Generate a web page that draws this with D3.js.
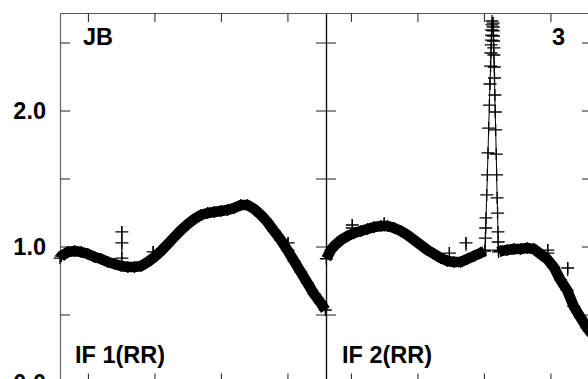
<!DOCTYPE html>
<html><head><meta charset="utf-8">
<script src="https://cdn.jsdelivr.net/npm/d3@7"></script>
<style>
body{margin:0;background:#fff}
svg{display:block}
text{font-family:"Liberation Sans",Arial,Helvetica,sans-serif;font-weight:bold;fill:#000}
</style>
</head><body>
<svg id="c" width="588" height="379"></svg>
<script>
// ---- data ----
const yTicks = [0, 0.5, 1, 1.5, 2, 2.5];
const yLabelValues = [0, 1, 2];
const panelLabels = ["IF 1(RR)", "IF 2(RR)"];
const sourceLabel = "JB";
const antennaLabel = "3";
const leftTicks = [1, 2, 3, 4];
const rightTicks = [5, 6, 7, 8];

// IF 1 amplitude vs frequency (MHz offset)
const leftFreq = [0.58,0.6,0.7,0.8,0.9,1.0,1.1,1.2,1.3,1.4,1.5,1.6,1.7,1.8,1.9,2.0,2.1,2.2,2.3,2.4,2.5,2.6,2.7,2.8,2.9,3.0,3.1,3.2,3.3,3.4,3.5,3.6,3.7,3.8,3.9,4.0,4.1,4.2,4.3,4.4,4.5,4.57];
const leftAmp  = [0.915,0.930,0.960,0.967,0.960,0.945,0.923,0.908,0.886,0.871,0.857,0.849,0.849,0.857,0.886,0.923,0.967,1.018,1.070,1.121,1.165,1.202,1.232,1.246,1.254,1.261,1.268,1.283,1.305,1.305,1.276,1.232,1.180,1.114,1.048,0.974,0.893,0.813,0.732,0.651,0.585,0.533];

// IF 2, before the spike
const rightFreqA = [4.63,4.70,4.75,4.85,4.95,5.05,5.15,5.25,5.35,5.45,5.55,5.65,5.75,5.85,5.95,6.05,6.15,6.25,6.35,6.45,6.55,6.65,6.75,6.85,6.95,7.01];
const rightAmpA  = [0.910,0.975,1.004,1.048,1.077,1.099,1.114,1.129,1.143,1.151,1.151,1.136,1.114,1.085,1.048,1.011,0.974,0.945,0.915,0.893,0.886,0.886,0.908,0.930,0.952,0.967];
// IF 2, narrow spike
const spikeFreq = [7.016,7.022,7.027,7.031,7.042,7.052,7.061,7.071,7.082,7.091,7.100,7.106,7.109,7.112,7.114,7.117,7.120,7.121,7.138,7.139,7.141,7.144,7.145,7.148,7.150,7.155,7.159,7.164,7.170,7.176,7.185,7.191,7.199,7.205,7.211,7.214,7.217];
const spikeAmp  = [0.974,1.062,1.136,1.210,1.379,1.526,1.688,1.871,2.040,2.195,2.327,2.423,2.482,2.518,2.555,2.592,2.629,2.658,2.643,2.614,2.585,2.548,2.511,2.460,2.408,2.320,2.239,2.114,1.989,1.857,1.680,1.526,1.357,1.246,1.107,1.033,0.974];
// IF 2, after the spike
const rightFreqB = [7.22,7.25,7.35,7.45,7.55,7.65,7.75,7.85,7.95,8.05,8.15,8.25,8.35,8.45,8.55,8.62];
const rightAmpB  = [0.960,0.967,0.974,0.982,0.982,0.989,0.982,0.945,0.908,0.849,0.754,0.680,0.560,0.480,0.401,0.360];

// isolated points above the band
const outlierFreq = [1.51,1.51,1.51,1.98,4.01,4.01,5.02,5.02,5.50,6.48,6.73,7.96,7.96,8.26];
const outlierAmp  = [1.107,1.026,0.915,0.960,1.026,0.974,1.158,1.136,1.170,0.952,1.026,0.974,0.952,0.842];

// ---- layout ----
const frameL = 60, frameT = 13, frameB = 382.5, panelW = 266;
const svg = d3.select("#c");
const y = d3.scaleLinear().domain([0, 2.717]).range([frameB, frameT]);
const xL = d3.scaleLinear().domain([0.58, 4.58]).range([frameL, frameL + panelW]);
const xR = d3.scaleLinear().domain([4.625, 8.625]).range([frameL + panelW, frameL + 2 * panelW]);
const xOf = f => (f < 4.6 ? xL(f) : xR(f));

// ---- frame & axes ----
const axG = svg.append("g");
function styleAxis(g, col) {
  g.selectAll("path.domain").attr("stroke", col).attr("stroke-width", 1.2);
  g.selectAll(".tick line").attr("stroke", "#333").attr("stroke-width", 1.1);
  g.selectAll(".tick text").remove();
}
axG.append("g").attr("transform", `translate(${frameL},0)`)
  .call(d3.axisRight(y).tickValues(yTicks).tickSize(10).tickSizeOuter(0).tickFormat(""))
  .call(g => styleAxis(g, "#666"));
const divX = frameL + panelW;
axG.append("g").attr("transform", `translate(${divX},0)`)
  .call(d3.axisRight(y).tickValues(yTicks).tickSize(10).tickSizeOuter(0).tickFormat(""))
  .call(g => styleAxis(g, "#111"));
axG.append("g").attr("transform", `translate(${divX},0)`)
  .call(d3.axisLeft(y).tickValues(yTicks).tickSize(10).tickSizeOuter(0).tickFormat(""))
  .call(g => styleAxis(g, "#111"));
axG.append("g").attr("transform", `translate(${frameL + 2 * panelW},0)`)
  .call(d3.axisLeft(y).tickValues(yTicks).tickSize(10).tickSizeOuter(0).tickFormat(""))
  .call(g => styleAxis(g, "#666"));
[[xL, leftTicks], [xR, rightTicks]].forEach(([sc, tv]) => {
  axG.append("g").attr("transform", `translate(0,${frameT})`)
    .call(d3.axisBottom(sc).tickValues(tv).tickSize(9).tickSizeOuter(0).tickFormat(""))
    .call(g => styleAxis(g, "#555"));
  axG.append("g").attr("transform", `translate(0,${frameB})`)
    .call(d3.axisTop(sc).tickValues(tv).tickSize(9).tickSizeOuter(0).tickFormat(""))
    .call(g => styleAxis(g, "#555"));
});

// y labels
svg.append("g").selectAll("text").data(yLabelValues).join("text")
  .attr("x", 46).attr("y", d => y(d) + 8.5)
  .attr("text-anchor", "end").attr("font-size", 23.5)
  .text(d => d3.format(".1f")(d));

// ---- data marks ----
const pts = (fs, as) => fs.map((f, i) => [xOf(f), y(as[i])]);
const line = d3.line();
const leftPts = pts(leftFreq, leftAmp);
const rA = pts(rightFreqA, rightAmpA);
const sp = pts(spikeFreq, spikeAmp);
const rB = pts(rightFreqB, rightAmpB);

const marks = svg.append("g");
[leftPts, rA, rB].forEach(p => {
  marks.append("path").attr("d", line(p)).attr("fill", "none")
    .attr("stroke", "#000").attr("stroke-width", 10.5)
    .attr("stroke-linejoin", "round").attr("stroke-linecap", "butt");
});
marks.append("path").attr("d", line(leftPts)).attr("fill", "none").attr("stroke", "#000").attr("stroke-width", 1);
marks.append("path").attr("d", line(rA.concat(sp, rB))).attr("fill", "none").attr("stroke", "#000").attr("stroke-width", 1);

const outPts = outlierFreq.map((f, i) => ({f, p: [xOf(f), y(outlierAmp[i])]}));
d3.groups(outPts, d => d.f).forEach(([f, arr]) => {
  const ys = arr.map(d => d.p[1]);
  const x0 = arr[0].p[0];
  marks.append("line").attr("x1", x0).attr("x2", x0)
    .attr("y1", d3.min(ys) - 6).attr("y2", d3.max(ys) + 8)
    .attr("stroke", "#000").attr("stroke-width", 1.2);
});

const cross = ([cx, cy], hw, hh) => `M${cx - hw},${cy}H${cx + hw}M${cx},${cy - hh}V${cy + hh}`;
const allCross = leftPts.concat(rA, sp, rB, outPts.map(d => d.p));
marks.append("path")
  .attr("d", allCross.map(p => cross(p, 6.5, 6)).join(""))
  .attr("fill", "none").attr("stroke", "#000").attr("stroke-width", 1.3);

// ---- labels ----
svg.append("text").attr("x", 83).attr("y", 45).attr("font-size", 23.5).text(sourceLabel);
svg.append("text").attr("x", 552).attr("y", 45).attr("font-size", 23.5).text(antennaLabel);
svg.append("text").attr("x", 75).attr("y", 363).attr("font-size", 23.5).text(panelLabels[0]);
svg.append("text").attr("x", 342).attr("y", 363).attr("font-size", 23.5).text(panelLabels[1]);
</script>
</body></html>
